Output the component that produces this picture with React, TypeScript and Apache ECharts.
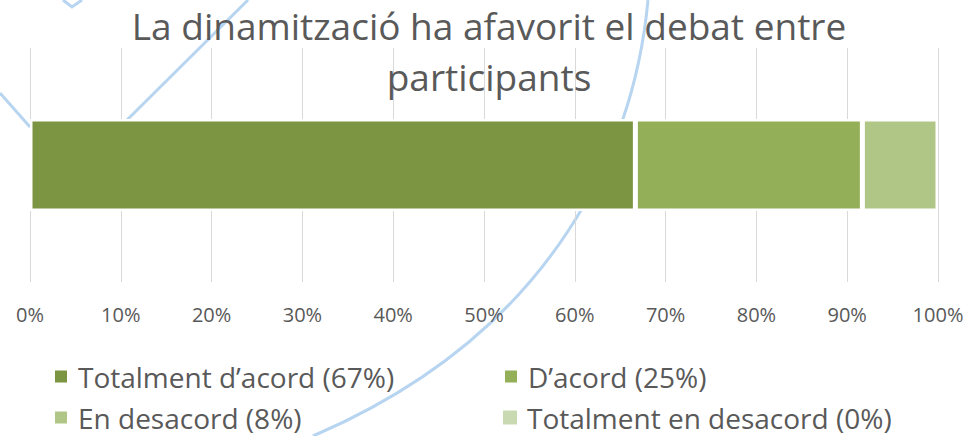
import React, { useEffect, useRef } from "react";
import * as echarts from "echarts";

const titleText = "La dinamització ha afavorit el debat entre\nparticipants";
const categories = ["Debat"];
const seriesNames = [
  "Totalment d’acord (67%)",
  "D’acord (25%)",
  "En desacord (8%)",
  "Totalment en desacord (0%)",
];
const seriesValues = [66.67, 25, 8.33, 0];
const seriesColors = ["#7B9542", "#93B058", "#AFC686", "#C9DAB3"];

// decorative background strokes (slide artwork)
const decoV = [[63, 0], [72, 7], [82, 0]];
const decoA = [[0, 93], [30, 127]];
const decoB = [[127, 120], [248, 0]];
const decoCurve = { x1: 648, y1: 0, cpx1: 635, cpy1: 140, cpx2: 560, cpy2: 330, x2: 313, y2: 436 };

const FONT = "'Open Sans', 'Noto Sans', sans-serif";
const GREY = "#595959";

export default function App() {
  const ref = useRef<HTMLDivElement>(null);
  useEffect(() => {
    const chart = echarts.init(ref.current!, undefined, { renderer: "svg" });
    const legendPos = [
      { left: 53, top: 362.5 },
      { left: 503, top: 362.5 },
      { left: 53, top: 403.5 },
      { left: 503, top: 403.5 },
    ];
    const decoStyle = { stroke: "#B7D5F0", lineWidth: 3, fill: "none" };
    chart.setOption({
      animation: false,
      backgroundColor: "#ffffff",
      title: {
        text: titleText,
        left: "center",
        top: 0,
        padding: [0, 0, 0, 5],
        textStyle: {
          fontFamily: FONT,
          fontSize: 37,
          fontWeight: "normal",
          color: GREY,
          lineHeight: 51,
        },
      },
      graphic: [
        { type: "polyline", z: 0, silent: true, shape: { points: decoV }, style: decoStyle },
        { type: "polyline", z: 0, silent: true, shape: { points: decoA }, style: decoStyle },
        { type: "polyline", z: 0, silent: true, shape: { points: decoB }, style: decoStyle },
        { type: "bezierCurve", z: 0, silent: true, shape: decoCurve, style: decoStyle },
      ],
      legend: seriesNames.map((n, i) => ({
        data: [n],
        left: legendPos[i].left,
        top: legendPos[i].top,
        padding: 0,
        itemGap: 0,
        itemWidth: 14,
        itemHeight: 14,
        icon: "rect",
        textStyle: {
          fontFamily: FONT,
          fontSize: 28,
          color: GREY,
          lineHeight: 28,
          padding: [0, 0, 0, 5],
        },
      })),
      grid: { left: 30, right: 40, top: 48, bottom: 154, containLabel: false },
      xAxis: {
        type: "value",
        min: 0,
        max: 100,
        interval: 10,
        axisLine: { show: false },
        axisTick: { show: false },
        axisLabel: {
          formatter: "{value}%",
          fontFamily: FONT,
          fontSize: 20,
          color: GREY,
          margin: 22,
        },
        splitLine: { show: true, lineStyle: { color: "#D9D9D9", width: 1 } },
      },
      yAxis: {
        type: "category",
        data: categories,
        axisLine: { show: false },
        axisTick: { show: false },
        axisLabel: { show: false },
      },
      series: seriesNames.map((n, i) => ({
        name: n,
        type: "bar",
        stack: "total",
        barWidth: 92,
        data: [seriesValues[i]],
        itemStyle: {
          color: seriesColors[i],
          borderColor: "#ffffff",
          borderWidth: seriesValues[i] > 0 ? 2.5 : 0,
        },
        z: 3,
      })),
    });
    return () => chart.dispose();
  }, []);
  return (
    <div
      ref={ref}
      style={{ position: "fixed", left: 0, top: 0, width: 978, height: 436 }}
    />
  );
}
